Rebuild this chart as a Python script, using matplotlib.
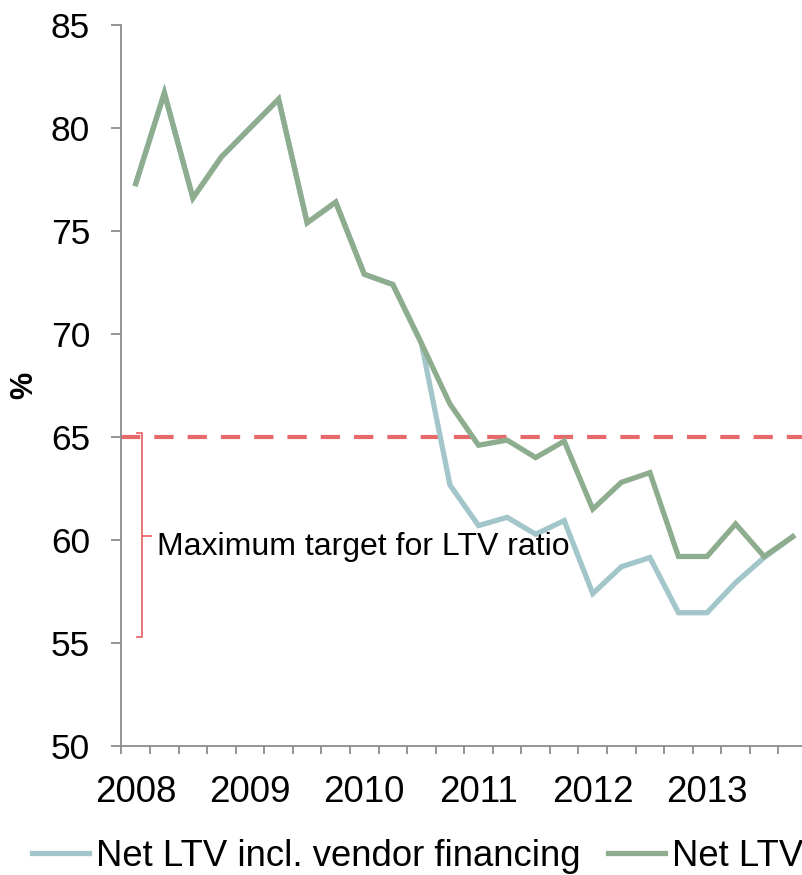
import matplotlib
matplotlib.use("Agg")
import matplotlib.pyplot as plt
import matplotlib.transforms as mtransforms
import numpy as np

plt.rcParams['font.family'] = ['Liberation Sans', 'DejaVu Sans']

# Quarterly data 2008Q1 .. 2013Q4
years = ["2008", "2009", "2010", "2011", "2012", "2013"]
net_ltv = [77.3, 81.7, 76.6, 78.6, 80.0, 81.4, 75.4, 76.4, 72.9, 72.4,
           69.55, 66.6, 64.6, 64.85, 64.0, 64.8, 61.5, 62.8, 63.27, 59.2,
           59.2, 60.78, 59.2, 60.16]
net_ltv_vendor = [77.3, 81.7, 76.6, 78.6, 80.0, 81.4, 75.4, 76.4, 72.9, 72.4,
                  69.55, 62.67, 60.7, 61.1, 60.28, 60.94, 57.4, 58.7, 59.15, 56.47,
                  56.47, 57.93, 59.15, 60.16]
target = 65
bracket_top, bracket_mid, bracket_bottom = 65.2, 60.2, 55.3
target_label = "Maximum target for LTV ratio"

green = "#8EAD8F"
blue = "#A2C6CA"
red = "#E8696B"
gray = "#8C8C8C"

fig = plt.figure(figsize=(8.03, 8.75), dpi=100)
ax = fig.add_axes([121.5/803, 129/875, 685.5/803, 721/875])

x = np.arange(len(net_ltv))
ax.plot(x, net_ltv_vendor, color=blue, lw=3.8, solid_joinstyle='miter',
        label="Net LTV incl. vendor financing", zorder=3)
ax.plot(x, net_ltv, color=green, lw=3.8, solid_joinstyle='miter',
        label="Net LTV", zorder=4)

ax.axhline(target, color=red, lw=3.0, dashes=(4.63, 3.36), zorder=2)

# bracket
trans = mtransforms.blended_transform_factory(ax.transAxes, ax.transData)
bx = (141.7 - 121.5) / 685.5
cap = 5 / 685.5
mid = 9 / 685.5
ax.plot([bx - cap, bx, bx, bx - cap], [bracket_top, bracket_top, bracket_bottom, bracket_bottom],
        color=red, lw=1.3, transform=trans, clip_on=False, zorder=2)
ax.plot([bx, bx + mid], [bracket_mid, bracket_mid], color=red, lw=1.3,
        transform=trans, clip_on=False, zorder=2)
ax.text((157 - 121.5) / 685.5, 59.27, target_label, transform=trans,
        fontsize=23, va='baseline', ha='left', color='black')

ax.set_ylim(50, 85)
ax.set_yticks(np.arange(50, 86, 5))
ax.set_xlim(-0.5, len(net_ltv) - 0.5)

ax.set_xticks(np.arange(-0.5, len(net_ltv), 1))
ax.set_xticklabels([])
ax.set_xticks(np.arange(0, len(net_ltv), 4), minor=True)
ax.set_xticklabels(years, minor=True)
ax.tick_params(axis='x', which='major', length=6, width=1.3, color=gray, direction='out')
ax.tick_params(axis='x', which='minor', length=0, pad=21, labelsize=26.5)
ax.tick_params(axis='y', length=7.5, width=1.3, color=gray, direction='out', pad=15, labelsize=25.5)

for s in ['top', 'right']:
    ax.spines[s].set_visible(False)
for s in ['left', 'bottom']:
    ax.spines[s].set_color(gray)
    ax.spines[s].set_linewidth(1.3)

fig.text(24/803, 1 - 385/875, "%", rotation=90, fontsize=22, fontweight='bold',
         ha='center', va='center')

fig.legend(loc='center', bbox_to_anchor=(0.52, 19/875), ncol=2, frameon=False,
           fontsize=26.3, handlelength=1.55, handletextpad=0.2, columnspacing=0.75,
           borderpad=0, borderaxespad=0)

fig.savefig("out.png", dpi=100)
